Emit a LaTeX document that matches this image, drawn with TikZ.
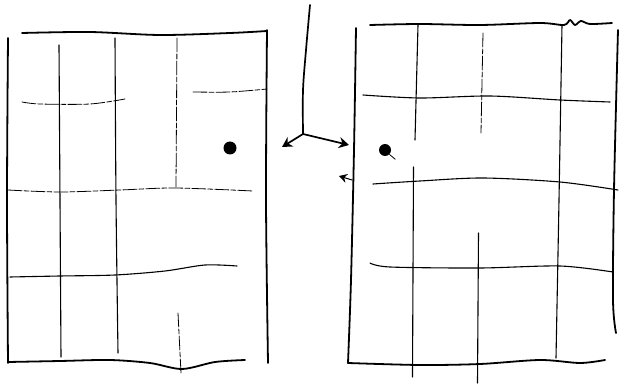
\documentclass[tikz,border=0pt]{standalone}
\usetikzlibrary{arrows.meta}
\begin{document}
\begin{tikzpicture}[x=1pt, y=-1pt,
    frame/.style={line width=1.8pt, line cap=round, line join=round},
    grid/.style={line width=1.1pt, line cap=round},
    faint/.style={line width=0.8pt, line cap=round, dash pattern=on 14pt off 2pt on 5pt off 2pt},
    axisline/.style={line width=1.7pt, line cap=round},
    axis/.style={line width=1.7pt, -{Stealth[length=10pt, width=11pt]}},
    pin/.style={circle, fill, inner sep=0pt, minimum size=13pt}
  ]
  \useasboundingbox (0,0) rectangle (619,385);
  % left sheet
  \draw[frame] plot[smooth] coordinates {(22,33) (90,32) (160,35) (230,33) (267,31)};
  \draw[frame] plot[smooth] coordinates {(8,38) (7,200) (8,363)};
  \draw[frame] plot[smooth] coordinates {(267,30) (266,200) (268,363)};
  \draw[frame] plot[smooth] coordinates {(8,362) (60,361) (110,360) (150,363) (182,369) (215,362) (245,360)};
  \draw[grid] (59,45) -- (61,357);
  \draw[grid] plot[smooth] coordinates {(115,38) (116,200) (118,353)};
  \draw[faint] (177,38) -- (176,187);
  \draw[faint] (178,313) -- (181,373);
  \draw[faint] plot[smooth] coordinates {(22,102) (40,104) (90,104) (125,99)};
  \draw[faint] plot[smooth] coordinates {(193,92) (230,92) (267,89)};
  \draw[faint] plot[smooth] coordinates {(8,190) (60,192) (120,190) (175,188) (253,191)};
  \draw[grid] plot[smooth] coordinates {(10,277) (60,276) (115,275) (165,271) (205,265) (237,266)};
  \node[pin] (pinL) at (230,148) {};
  % right sheet
  \draw[frame] plot[smooth] coordinates {(370,25) (420,24) (480,25) (540,23) (564,25) (570,20) (575,25) (581,21) (590,24) (612,23)};
  \draw[frame] plot[smooth] coordinates {(356,28) (354,150) (351,280) (348,363)};
  \draw[frame] plot[smooth] coordinates {(618,30) (614,190) (613,300) (616,333)};
  \draw[frame] plot[smooth] coordinates {(348,363) (420,365) (480,364) (540,360) (580,363) (605,360)};
  \draw[grid] (418,25) -- (415,140);
  \draw[grid] (413.5,167) -- (412.5,377);
  \draw[faint] (483,33) -- (481,133);
  \draw[grid] (478.5,233) -- (477.5,383);
  \draw[grid] plot[smooth] coordinates {(562,25) (559,200) (556,358)};
  \draw[grid] plot[smooth] coordinates {(363,95) (420,98) (490,96) (560,100) (610,102)};
  \draw[grid] plot[smooth] coordinates {(373,184) (420,181) (483,178) (560,182) (618,190)};
  \draw[grid] plot[smooth] coordinates {(370,263) (390,267) (480,268) (560,266) (613,272)};
  \node[pin, minimum size=12pt] (pinR) at (385,150) {};
  \draw[line width=0.8pt] (pinR.south east) -- ++(6,5);
  % axes between the sheets
  \coordinate (o) at (303,134);
  \coordinate (up) at (310,5);
  \draw[axisline] plot[smooth] coordinates {(up) (306,50) (303,90) (o)};
  \draw[axis] (o) -- (349,145);
  \draw[axis] (o) -- (282,147);
  \draw[line width=1pt, -{Stealth[length=8pt, width=9pt]}] (352,180) -- (339,176);
\end{tikzpicture}
\end{document}
